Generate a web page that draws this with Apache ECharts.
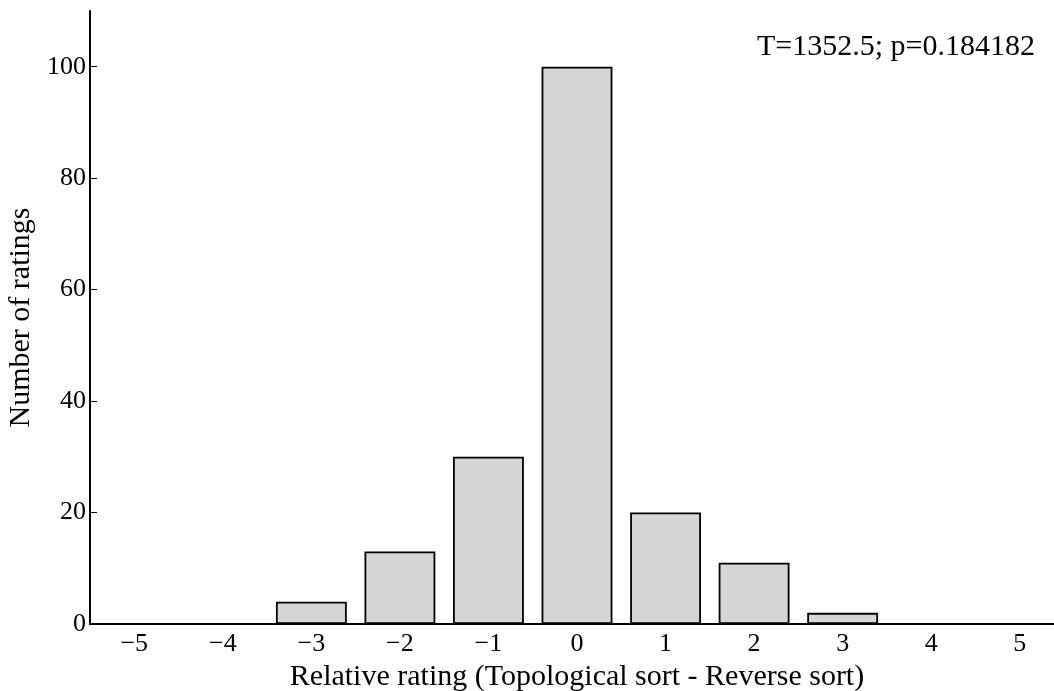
<!DOCTYPE html>
<html>
<head>
<meta charset="utf-8">
<script src="https://cdn.jsdelivr.net/npm/echarts@6/dist/echarts.min.js"></script>
<style>html,body{margin:0;padding:0;background:#fff;}#main{width:1054px;height:691px;}</style>
</head>
<body>
<div id="main"></div>
<script>
var categories = ['\u22125','\u22124','\u22123','\u22122','\u22121','0','1','2','3','4','5'];
var counts = [0, 0, 4, 13, 30, 100, 20, 11, 2, 0, 0];
var yTicks = [0, 20, 40, 60, 80, 100];
var annotation = 'T=1352.5; p=0.184182';
var xTitle = 'Relative rating (Topological sort - Reverse sort)';
var yTitle = 'Number of ratings';

var FONT = '"Liberation Serif", "DejaVu Serif", serif';
var chart = echarts.init(document.getElementById('main'));
chart.setOption({
  animation: false,
  backgroundColor: '#fff',
  title: {
    text: annotation, right: 14, top: 27,
    textStyle: {fontFamily: FONT, fontSize: 30, fontWeight: 'normal', color: '#000'}
  },
  grid: {left: 90, right: -10, top: 11, bottom: 67, outerBoundsMode: 'none', containLabel: false},
  xAxis: {
    type: 'category', data: categories, boundaryGap: true,
    name: xTitle, nameLocation: 'middle', nameGap: 36,
    nameTextStyle: {fontFamily: FONT, fontSize: 30, color: '#000'},
    axisLine: {lineStyle: {color: '#000', width: 2}},
    axisTick: {inside: true, alignWithLabel: true, length: 7, lineStyle: {color: '#000', width: 1}},
    axisLabel: {fontFamily: FONT, fontSize: 26, color: '#000', margin: 7},
    splitLine: {show: false}
  },
  yAxis: {
    type: 'value', min: 0, max: 110, interval: 20,
    name: yTitle, nameLocation: 'middle', nameGap: 53,
    nameTextStyle: {fontFamily: FONT, fontSize: 30, color: '#000'},
    axisLine: {show: true, lineStyle: {color: '#000', width: 2}},
    axisTick: {show: true, inside: true, length: 7, lineStyle: {color: '#000', width: 1}, customValues: yTicks},
    axisLabel: {fontFamily: FONT, fontSize: 26, color: '#000', margin: 4, customValues: yTicks},
    splitLine: {show: false}
  },
  series: [{
    type: 'bar', data: counts, barWidth: '80%',
    itemStyle: {color: '#d6d6d6', borderColor: '#000', borderWidth: 1.8}
  }]
});
</script>
</body>
</html>
